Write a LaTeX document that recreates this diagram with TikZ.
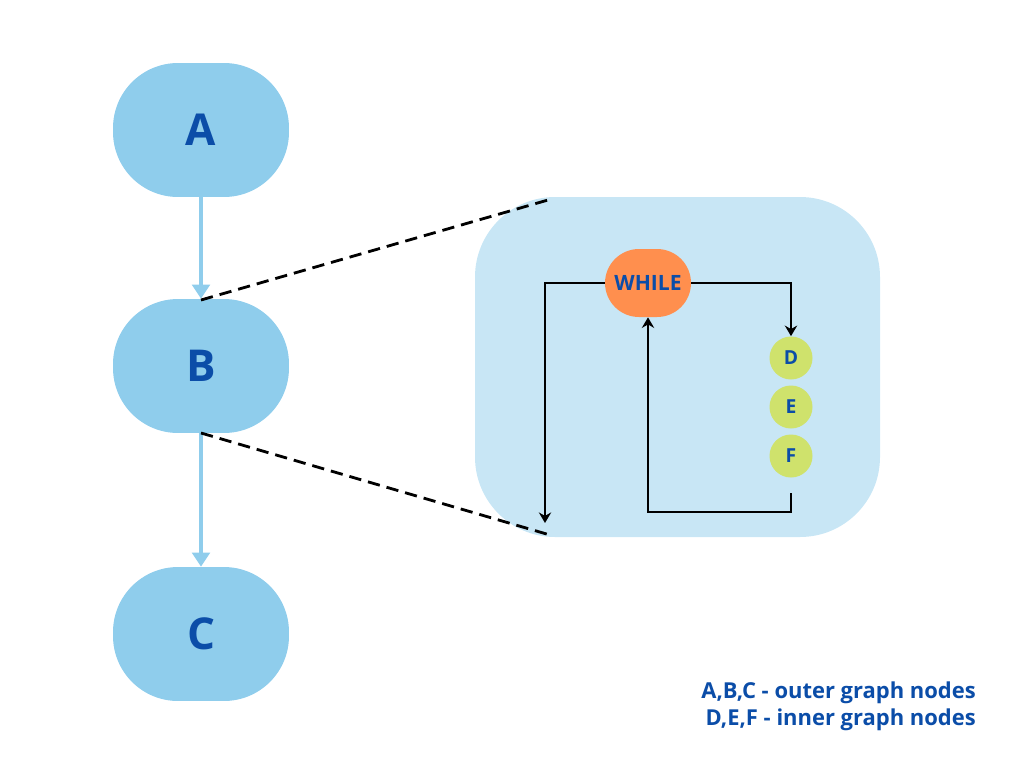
\documentclass[tikz,border=0pt]{standalone}
\usepackage{fontspec}
\setmainfont{Open Sans}
\usetikzlibrary{arrows.meta}
\definecolor{outerfill}{HTML}{8FCDEC}
\definecolor{boxfill}{HTML}{C8E6F5}
\definecolor{txtblue}{HTML}{0B4DA8}
\definecolor{whilefill}{HTML}{FF8F4E}
\definecolor{innerfill}{HTML}{CFE26C}
\begin{document}
\begin{tikzpicture}[x=0.02cm,y=-0.02cm]
  \tikzset{outer/.style = {fill=outerfill,minimum width=3.52cm,minimum height=2.68cm,rounded corners=1.3cm,font=\fontsize{25}{25}\selectfont\bfseries,text=txtblue}}
  \tikzset{inner/.style = {circle,fill=innerfill,minimum size=0.86cm,inner sep=0pt,font=\fontsize{11}{11}\selectfont\bfseries,text=txtblue}}
  \tikzset{flow/.style = {line width=1.5pt,-{Stealth[length=6pt,width=7pt]}}}

\useasboundingbox (0,0) rectangle (1024,768);
\fill[boxfill,rounded corners=1.6cm] (475,197) rectangle (880,537);

\node[outer] (a) at (201,130) {A};
\node[outer] (b) at (201,366) {B};
\node[outer] (c) at (201,634) {C};

  \draw[outerfill,line width=2pt,-{Triangle[length=8pt,width=10pt]}] (a) -- (b);
  \draw[outerfill,line width=2pt,-{Triangle[length=8pt,width=10pt]}] (b) -- (c);

\node[fill=whilefill,minimum width=1.72cm,minimum height=1.36cm,rounded corners=0.68cm,font=\fontsize{12}{12}\selectfont\bfseries,text=txtblue] (w) at (648,283) {WHILE};
\node[inner] (d) at (791,358) {D};
\node[inner] (e) at (791,407) {E};
\node[inner] (f) at (791,456) {F};

\coordinate (r1) at (791,283);
\coordinate (l1) at (545,283);
\coordinate (l2) at (545,523);
\coordinate (f1) at (791,493);
\coordinate (f2) at (791,512);
\coordinate (f3) at (648,512);
\coordinate (btop) at (201,300);
\coordinate (bbot) at (201,433);
\coordinate (zt) at (548,200);
\coordinate (zb) at (550,535);

  \draw[flow] (w) -- (r1) -- (d.north);
  \draw[flow] (w) -- (l1) -- (l2);
  \draw[flow] (f1) -- (f2) -- (f3) -- (w.south);
  \draw[dashed,line width=1.6pt,dash pattern=on 7pt off 4pt] (btop) -- (zt);
  \draw[dashed,line width=1.6pt,dash pattern=on 7pt off 4pt] (bbot) -- (zb);

\node[anchor=east,align=right,text=txtblue,font=\fontsize{12.5}{15.5}\selectfont\bfseries] (key) at (982,706) {A,B,C - outer graph nodes\\D,E,F - inner graph nodes};
\end{tikzpicture}
\end{document}
